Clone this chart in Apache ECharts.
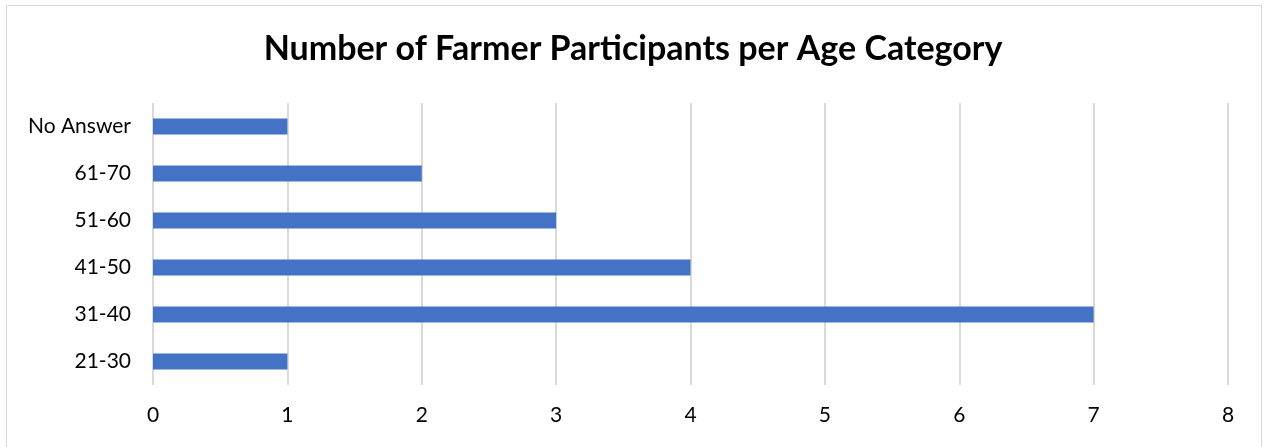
<!DOCTYPE html>
<html><head><meta charset="utf-8">
<script src="https://cdn.jsdelivr.net/npm/echarts@6/dist/echarts.min.js"></script>
<style>html,body{margin:0;padding:0;background:#fff}#c{width:1266px;height:447px}</style>
</head><body><div id="c"></div>
<script>
const categories = ['21-30','31-40','41-50','51-60','61-70','No Answer'];
const participants = [1,7,4,3,2,1];
const xTicks = [0,1,2,3,4,5,6,7,8];
const chart = echarts.init(document.getElementById('c'));
chart.setOption({
  animation:false,
  graphic:[{type:'rect',shape:{x:6.5,y:5.5,width:1255,height:445},style:{fill:'none',stroke:'#d9d9d9',lineWidth:1},silent:true}],
  title:{text:'Number of Farmer Participants per Age Category',left:'center',top:27,
    textStyle:{fontFamily:'Lato',fontWeight:'bold',fontSize:34,color:'#000'}},
  grid:{left:153,right:38,top:103,bottom:62,containLabel:false},
  xAxis:{type:'value',min:xTicks[0],max:xTicks[xTicks.length-1],interval:1,
    axisLine:{show:false},axisTick:{show:false},
    axisLabel:{fontFamily:'Lato',fontSize:21,color:'#000',margin:20},
    splitLine:{lineStyle:{color:'#d9d9d9',width:2}}},
  yAxis:{type:'category',data:categories,
    axisLine:{show:false},axisTick:{show:false},
    axisLabel:{fontFamily:'Lato',fontSize:21,color:'#000',margin:22}},
  series:[{type:'bar',data:participants,barWidth:16,itemStyle:{color:'#4472C4'}}]
});
</script></body></html>
